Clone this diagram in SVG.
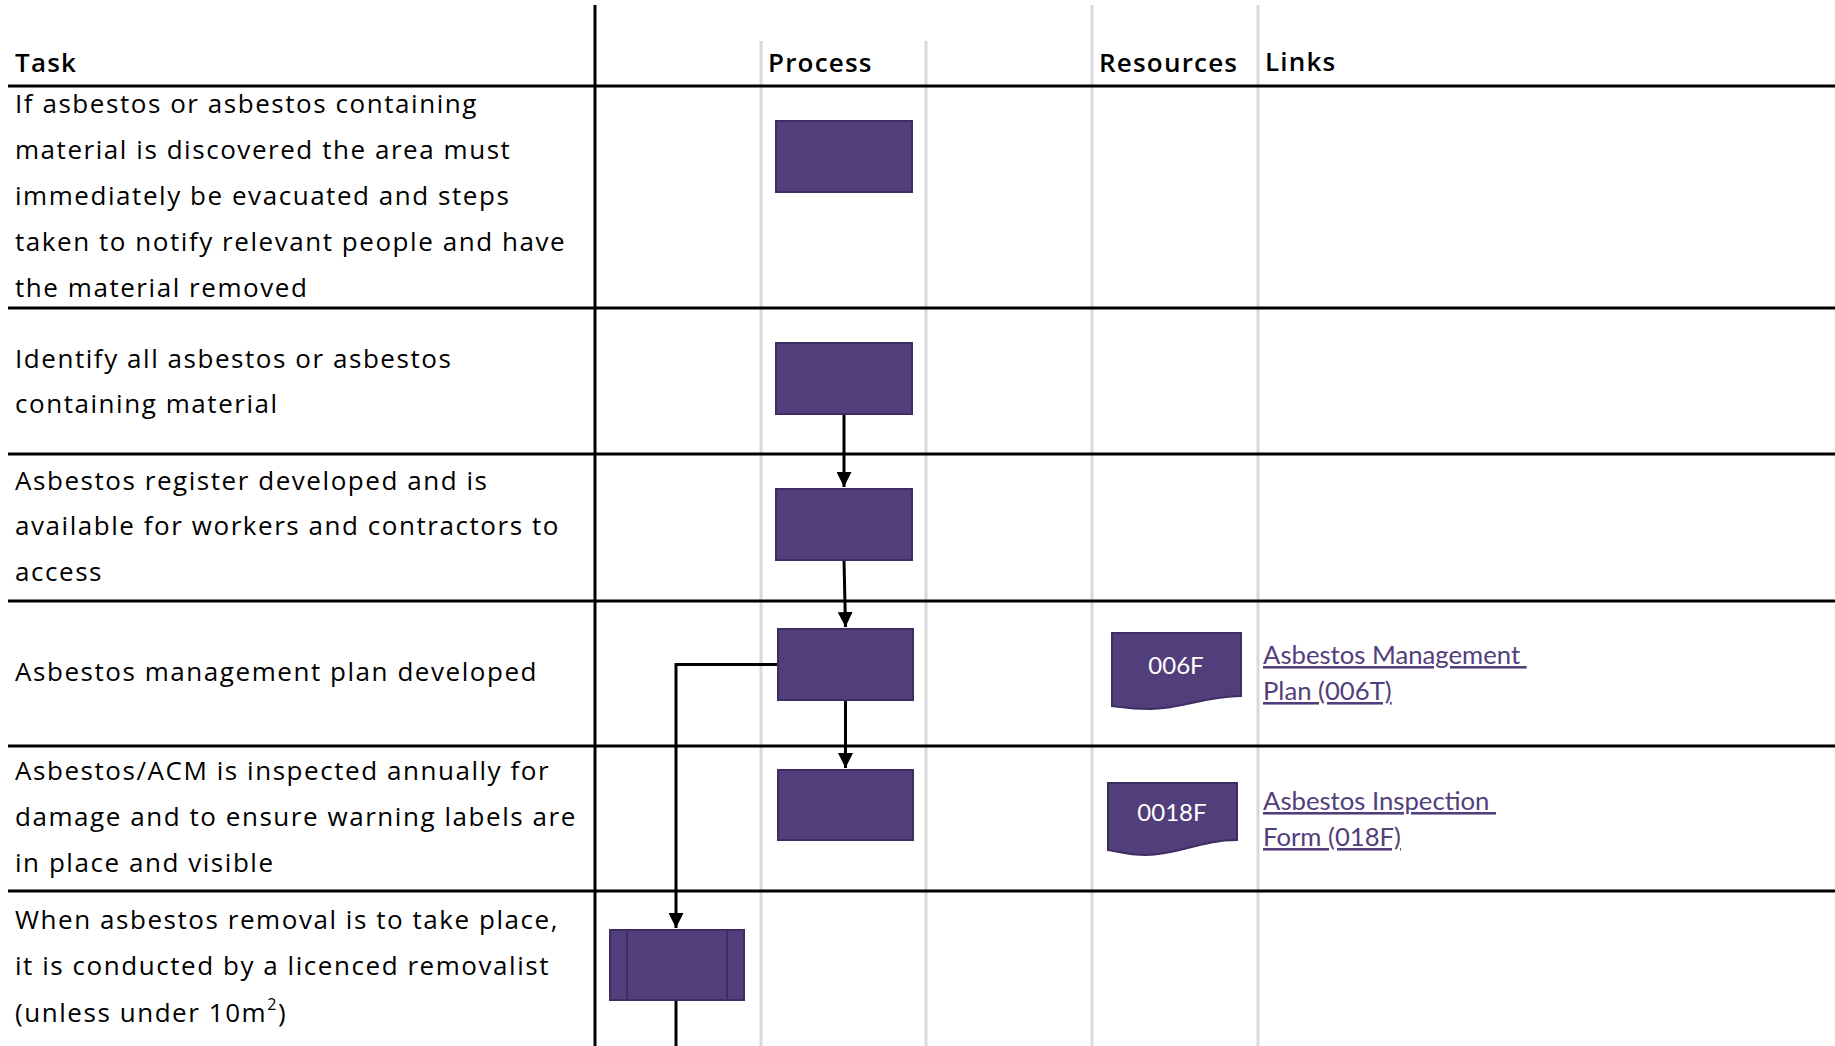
<svg xmlns="http://www.w3.org/2000/svg" width="1835" height="1046" viewBox="0 0 1835 1046">
<style>
.bg{fill:#ffffff}
.rule{stroke:#000;stroke-width:3;fill:none}
.grid{stroke:#d9d9d9;stroke-width:3;fill:none}
.hdr{font-family:"Open Sans","Liberation Sans",sans-serif;font-size:26px;font-weight:600;letter-spacing:1.2px;fill:#000}
.task{font-family:"Open Sans","Liberation Sans",sans-serif;font-size:26px;letter-spacing:1.55px;fill:#000}
.box{fill:#523e7a;stroke:#3e2d62;stroke-width:2}
.inner{stroke:#3e2d62;stroke-width:2;fill:none}
.doclbl{font-family:"Lato","Liberation Sans",sans-serif;font-size:24px;fill:#fff;text-anchor:middle}
.link{font-family:"Lato","Liberation Sans",sans-serif;font-size:25.7px;fill:#523e7a;text-decoration:underline}
.conn{stroke:#000;stroke-width:3;fill:none}
</style>
<defs>
<marker id="arr" viewBox="0 0 10 10" refX="10" refY="5" markerWidth="5" markerHeight="5" markerUnits="strokeWidth" orient="auto">
<path d="M0,0 L10,5 L0,10 Z" fill="#000"/>
</marker>
</defs>
<rect class="bg" x="0" y="0" width="1835" height="1046"/>

<g id="grid">
<line class="grid" x1="761" y1="41" x2="761" y2="1046"/>
<line class="grid" x1="926" y1="41" x2="926" y2="1046"/>
<line class="grid" x1="1092" y1="5" x2="1092" y2="1046"/>
<line class="grid" x1="1258" y1="5" x2="1258" y2="1046"/>
<line class="rule" x1="595" y1="5" x2="595" y2="1046"/>
<line class="rule" x1="8" y1="86" x2="1835" y2="86"/>
<line class="rule" x1="8" y1="308" x2="1835" y2="308"/>
<line class="rule" x1="8" y1="454" x2="1835" y2="454"/>
<line class="rule" x1="8" y1="601" x2="1835" y2="601"/>
<line class="rule" x1="8" y1="746" x2="1835" y2="746"/>
<line class="rule" x1="8" y1="891" x2="1835" y2="891"/>
</g>

<g id="headers">
<text class="hdr" x="15" y="72">Task</text>
<text class="hdr" x="768" y="72">Process</text>
<text class="hdr" x="1099" y="72">Resources</text>
<text class="hdr" x="1265" y="71">Links</text>
</g>

<g id="tasks">
<text class="task" x="15" y="113">If asbestos or asbestos containing</text>
<text class="task" x="15" y="159">material is discovered the area must</text>
<text class="task" x="15" y="205">immediately be evacuated and steps</text>
<text class="task" x="15" y="251">taken to notify relevant people and have</text>
<text class="task" x="15" y="297">the material removed</text>
<text class="task" x="15" y="368">Identify all asbestos or asbestos</text>
<text class="task" x="15" y="413">containing material</text>
<text class="task" x="15" y="490">Asbestos register developed and is</text>
<text class="task" x="15" y="535">available for workers and contractors to</text>
<text class="task" x="15" y="581">access</text>
<text class="task" x="15" y="681">Asbestos management plan developed</text>
<text class="task" x="15" y="780">Asbestos/ACM is inspected annually for</text>
<text class="task" x="15" y="826">damage and to ensure warning labels are</text>
<text class="task" x="15" y="872">in place and visible</text>
<text class="task" x="15" y="929">When asbestos removal is to take place,</text>
<text class="task" x="15" y="975">it is conducted by a licenced removalist</text>
<text class="task" x="15" y="1022">(unless under 10m<tspan font-size="16" dy="-12">2</tspan><tspan dy="12">)</tspan></text>
</g>

<g id="connectors">
<line class="conn" x1="844" y1="414" x2="844" y2="487" marker-end="url(#arr)"/>
<line class="conn" x1="844" y1="560" x2="845.5" y2="627" marker-end="url(#arr)"/>
<line class="conn" x1="845.5" y1="701" x2="845.5" y2="768" marker-end="url(#arr)"/>
<polyline class="conn" points="778,664.5 676,664.5 676,928" marker-end="url(#arr)"/>
<line class="conn" x1="676" y1="1001" x2="676" y2="1046"/>
</g>

<g id="p1"><rect class="box" x="776" y="121" width="136" height="71"/></g>
<g id="p2"><rect class="box" x="776" y="343" width="136" height="71"/></g>
<g id="p3"><rect class="box" x="776" y="489" width="136" height="71"/></g>
<g id="p4"><rect class="box" x="778" y="629" width="135" height="71"/></g>
<g id="p5"><rect class="box" x="778" y="770" width="135" height="70"/></g>
<g id="p6">
<rect class="box" x="610" y="930" width="134" height="70"/>
<line class="inner" x1="627" y1="930" x2="627" y2="1000"/>
<line class="inner" x1="727" y1="930" x2="727" y2="1000"/>
</g>

<g id="d1">
<path class="box" d="M1112,633 L1241,633 L1241,696 C1205,696 1182,709 1150,709 C1132,709 1120,707 1112,706 Z"/>
<text class="doclbl" x="1176" y="674">006F</text>
</g>
<g id="d2">
<path class="box" d="M1108,783 L1237,783 L1237,840 C1201,840 1178,855 1146,855 C1128,855 1116,851 1108,850 Z"/>
<text class="doclbl" x="1172" y="821">0018F</text>
</g>

<g id="links">
<text class="link" x="1263" y="664" xml:space="preserve">Asbestos Management </text>
<text class="link" x="1263" y="700">Plan (006T)</text>
<text class="link" x="1263" y="810" xml:space="preserve">Asbestos Inspection </text>
<text class="link" x="1263" y="846">Form (018F)</text>
</g>
</svg>
